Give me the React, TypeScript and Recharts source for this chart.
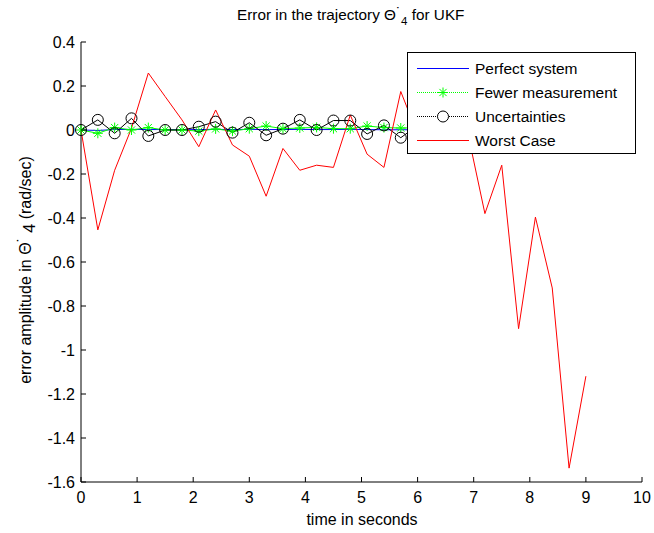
import React from "react";
import { LineChart, Line, XAxis, YAxis } from "recharts";

// sample times (s)
const time = [0, 0.3, 0.6, 0.9, 1.2, 1.5, 1.8, 2.1, 2.4, 2.7, 3.0, 3.3, 3.6, 3.9, 4.2, 4.5, 4.8, 5.1, 5.4, 5.7, 6.0, 6.3, 6.6, 6.9, 7.2, 7.5, 7.8, 8.1, 8.4, 8.7, 9.0];

const perfect = [0, -0.002, 0.002, 0.003, 0.002, 0.002, 0.001, 0.002, 0.003, 0.002, 0.003, 0.002, 0.002, 0.003, 0.002, 0.002, 0.003, 0.002, 0.001, 0.001, 0.001, 0.002, 0.001, 0.001, 0.002, 0.001, 0.001, 0.002, 0.001, 0.001, 0.001];
const fewer = [0, -0.015, 0.011, 0, 0.011, 0, 0, -0.005, 0.005, -0.005, 0.006, 0.018, 0.006, 0.009, 0.012, 0.006, 0.006, 0.018, 0.011, 0.009, 0.01, 0.005, 0.012, 0.008, 0.006, 0.01, 0.007, 0.011, 0.004, 0.009, 0.008];
const uncert = [0, 0.046, -0.015, 0.053, -0.027, 0, 0, 0.015, 0.038, -0.012, 0.033, -0.024, 0.006, 0.046, 0, 0.043, 0.043, -0.018, 0.021, -0.035, 0.02, -0.01, 0.03, 0.01, -0.02, 0.025, 0.005, -0.015, 0.03, 0.01, 0.02];
const worst = [0, -0.454, -0.183, 0.008, 0.259, 0.152, 0.046, -0.076, 0.091, -0.068, -0.119, -0.301, -0.084, -0.183, -0.16, -0.17, 0.068, -0.11, -0.17, 0.175, -0.02, 0.12, -0.06, -0.02, -0.38, -0.16, -0.903, -0.396, -0.718, -1.537, -1.119];

const xTicks = [0, 1, 2, 3, 4, 5, 6, 7, 8, 9, 10];
const yTicks = [-1.6, -1.4, -1.2, -1, -0.8, -0.6, -0.4, -0.2, 0, 0.2, 0.4];

const seriesNames = ["Perfect system", "Fewer measurement", "Uncertainties", "Worst Case"];

const data = time.map((t, i) => ({
  t,
  perfect: perfect[i],
  fewer: fewer[i],
  uncert: uncert[i],
  worst: worst[i],
}));

const FONT = "'Liberation Sans', Arial, Helvetica, sans-serif";

function Star({ cx, cy }: { cx: number; cy: number }) {
  const r = 5;
  const d = 3.6;
  return (
    <g stroke="#00ff00" strokeWidth={1}>
      <line x1={cx - r} y1={cy} x2={cx + r} y2={cy} />
      <line x1={cx} y1={cy - r} x2={cx} y2={cy + r} />
      <line x1={cx - d} y1={cy - d} x2={cx + d} y2={cy + d} />
      <line x1={cx - d} y1={cy + d} x2={cx + d} y2={cy - d} />
    </g>
  );
}

function XTick({ x, y, payload }: any) {
  return (
    <g>
      <line x1={x} x2={x} y1={y} y2={y - 5} stroke="#000" />
      <text x={x} y={y + 21} textAnchor="middle" fontSize={16} fill="#000" fontFamily={FONT}>
        {String(payload.value)}
      </text>
    </g>
  );
}

function YTick({ x, y, payload }: any) {
  return (
    <g>
      <line x1={x} x2={x + 5} y1={y} y2={y} stroke="#000" />
      <text x={x - 6} y={y + 5.5} textAnchor="end" fontSize={16} fill="#000" fontFamily={FONT}>
        {String(payload.value)}
      </text>
    </g>
  );
}

const legendRows = [
  { color: "#0000ff", dash: undefined, marker: "none" },
  { color: "#00ff00", dash: "1 1", marker: "star" },
  { color: "#000000", dash: "1 1", marker: "circle" },
  { color: "#ff0000", dash: undefined, marker: "none" },
];

export default function App() {
  return (
    <div style={{ position: "absolute", left: 0, top: 0, width: 654, height: 533, background: "#fff", fontFamily: FONT }}>
      <LineChart width={654} height={533} data={data} margin={{ top: 42, right: 12, bottom: 0, left: 0 }}>
        <XAxis
          dataKey="t"
          type="number"
          domain={[0, 10]}
          ticks={xTicks}
          height={51}
          tickSize={0}
          tickMargin={0}
          tickLine={false}
          axisLine={{ stroke: "#000", strokeWidth: 1 }}
          tick={XTick}
          interval={0}
        />
        <YAxis
          type="number"
          domain={[-1.6, 0.4]}
          ticks={yTicks}
          width={81}
          tickSize={0}
          tickMargin={0}
          tickLine={false}
          axisLine={{ stroke: "#000", strokeWidth: 1 }}
          tick={YTick}
          interval={0}
          allowDataOverflow
        />
        <Line dataKey="perfect" stroke="#0000ff" strokeWidth={1} dot={false} activeDot={false} isAnimationActive={false} />
        <Line
          dataKey="fewer"
          stroke="#00ff00"
          strokeWidth={1}
          activeDot={false}
          isAnimationActive={false}
          dot={(p: any) => <Star key={`s${p.index}`} cx={p.cx} cy={p.cy} />}
        />
        <Line
          dataKey="uncert"
          stroke="#000"
          strokeWidth={1}
          activeDot={false}
          isAnimationActive={false}
          dot={(p: any) => <circle key={`c${p.index}`} cx={p.cx} cy={p.cy} r={5.5} fill="none" stroke="#000" strokeWidth={1} />}
        />
        <Line dataKey="worst" stroke="#ff0000" strokeWidth={1} dot={false} activeDot={false} isAnimationActive={false} />
      </LineChart>

      <svg width={654} height={533} style={{ position: "absolute", left: 0, top: 0, pointerEvents: "none" }} fontFamily={FONT}>
        <text x={237} y={20} fontSize={15.3} fill="#000">
          Error in the trajectory Θ<tspan dy={-2}>˙</tspan>
          <tspan dy={7} fontSize={11.5}>4</tspan>
          <tspan dy={-5}> for UKF</tspan>
        </text>
        <text x={362} y={525} fontSize={16} textAnchor="middle" fill="#000">
          time in seconds
        </text>
        <text transform="rotate(-90)" x={-270} y={31} fontSize={16} textAnchor="middle" fill="#000">
          error amplitude in Θ<tspan dy={-2}>˙</tspan>
          <tspan dy={6}>{" 4"}</tspan>
          <tspan dy={-4}>{" (rad/sec)"}</tspan>
        </text>
      </svg>

      <div style={{ position: "absolute", left: 407, top: 52, width: 229, height: 102, boxSizing: "border-box", border: "1px solid #000", background: "#fff" }}>
        <svg width={227} height={100} fontFamily={FONT}>
          {seriesNames.map((name, i) => {
            const row = legendRows[i];
            const cy = 15.5 + i * 24;
            return (
              <g key={name}>
                <line x1={9} x2={61} y1={cy} y2={cy} stroke={row.color} strokeWidth={1} strokeDasharray={row.dash} />
                {row.marker === "star" && <Star cx={35} cy={cy} />}
                {row.marker === "circle" && <circle cx={35} cy={cy} r={5.5} fill="#fff" stroke="#000" />}
                <text x={67} y={cy + 5.5} fontSize={15.5} fill="#000">
                  {name}
                </text>
              </g>
            );
          })}
        </svg>
      </div>
    </div>
  );
}
